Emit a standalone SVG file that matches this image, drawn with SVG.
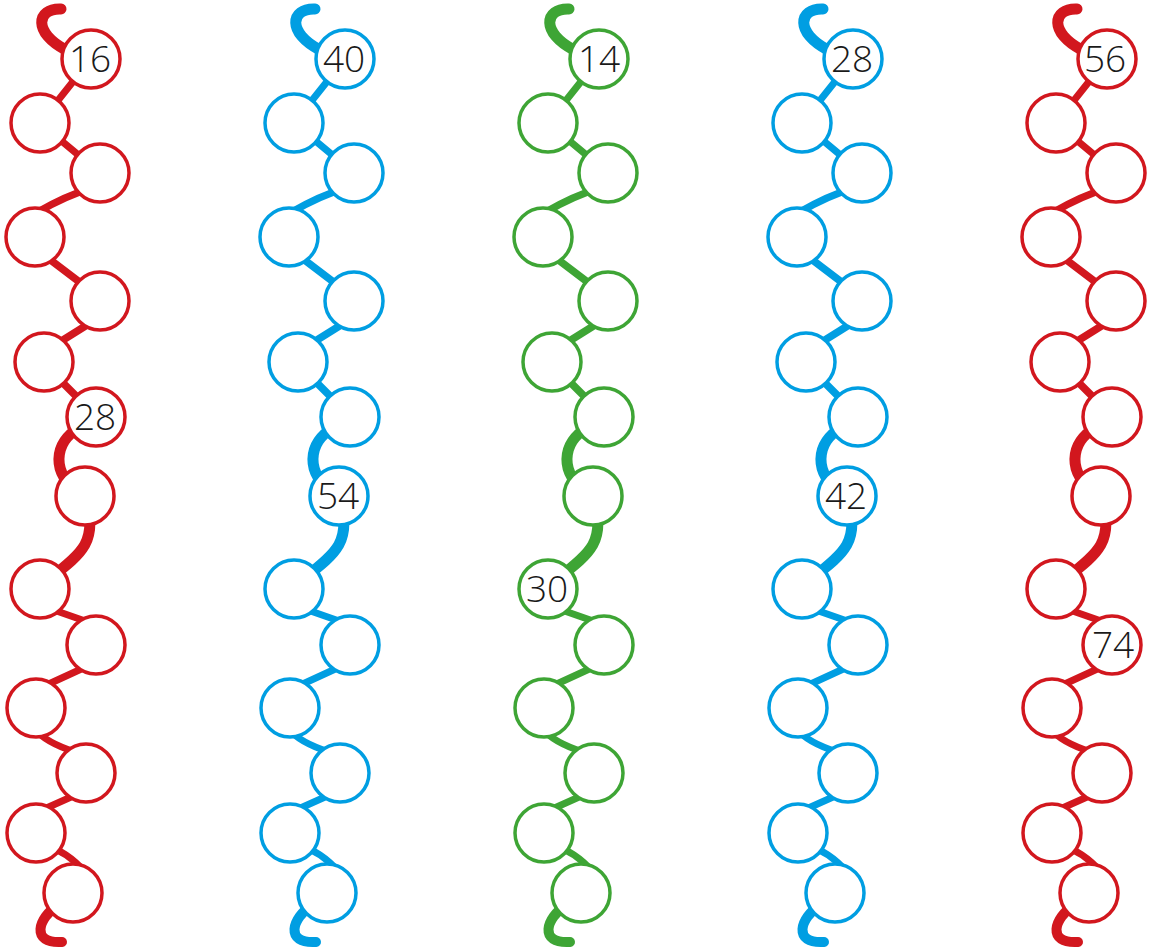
<svg xmlns="http://www.w3.org/2000/svg" width="1160" height="949" viewBox="0 0 1160 949">
<style>
.n circle{fill:#fff;stroke-width:3.5}
.red .n circle{stroke:#D2171E}.blue .n circle{stroke:#009EE2}.green .n circle{stroke:#3EA535}
.con{fill:none;stroke-linecap:round}
.red .con{stroke:#D2171E}.blue .con{stroke:#009EE2}.green .con{stroke:#3EA535}
.n text{font-family:"Open Sans","Liberation Sans",sans-serif;font-weight:300;font-size:37px;fill:#1a1a1a;text-anchor:middle}
</style>
<defs>
<g id="links" fill="none" stroke-linecap="round">
<path stroke-width="11" d="M61 9 C36 8,33 33,66 50 L76 58"/>
<path stroke-width="7" d="M91 59 L40 123"/>
<path stroke-width="7" d="M40 123 L100 173"/>
<path stroke-width="7.5" d="M92 188 Q65 196 38 212"/>
<path stroke-width="7.5" d="M40 252 L90 290"/>
<path stroke-width="7.5" d="M95 320 L55 345"/>
<path stroke-width="7.5" d="M50 370 L90 410"/>
<path stroke-width="11" d="M85 425 C55 438,50 468,75 490"/>
<path stroke-width="11" d="M88 505 C95 540,85 552,50 578"/>
<path stroke-width="7" d="M48 608 L88 622"/>
<path stroke-width="7" d="M90 665 L40 688"/>
<path stroke-width="7" d="M36 730 Q45 742 75 752"/>
<path stroke-width="7" d="M80 793 L42 810"/>
<path stroke-width="7" d="M45 845 Q68 852 85 872"/>
<path stroke-width="10" d="M58 905 C38 918,30 944,62 942"/>
</g>
</defs>

<g id="col1" class="red">
<g class="con"><use href="#links"/></g>
<g id="c1n1" class="n"><circle cx="91" cy="59" r="29"/><text x="90" y="72">16</text></g>
<g id="c1n2" class="n"><circle cx="40" cy="123" r="29"/></g>
<g id="c1n3" class="n"><circle cx="100" cy="173" r="29"/></g>
<g id="c1n4" class="n"><circle cx="35" cy="237" r="29"/></g>
<g id="c1n5" class="n"><circle cx="100" cy="301" r="29"/></g>
<g id="c1n6" class="n"><circle cx="44" cy="362" r="29"/></g>
<g id="c1n7" class="n"><circle cx="96" cy="417" r="29"/><text x="95" y="430">28</text></g>
<g id="c1n8" class="n"><circle cx="85" cy="496" r="29"/></g>
<g id="c1n9" class="n"><circle cx="40" cy="589" r="29"/></g>
<g id="c1n10" class="n"><circle cx="96" cy="645" r="29"/></g>
<g id="c1n11" class="n"><circle cx="36" cy="708" r="29"/></g>
<g id="c1n12" class="n"><circle cx="86" cy="773" r="29"/></g>
<g id="c1n13" class="n"><circle cx="36" cy="833" r="29"/></g>
<g id="c1n14" class="n"><circle cx="73" cy="893" r="29"/></g>
</g>

<g id="col2" class="blue" transform="translate(254,0)">
<g class="con"><use href="#links"/></g>
<g id="c2n1" class="n"><circle cx="91" cy="59" r="29"/><text x="90" y="72">40</text></g>
<g id="c2n2" class="n"><circle cx="40" cy="123" r="29"/></g>
<g id="c2n3" class="n"><circle cx="100" cy="173" r="29"/></g>
<g id="c2n4" class="n"><circle cx="35" cy="237" r="29"/></g>
<g id="c2n5" class="n"><circle cx="100" cy="301" r="29"/></g>
<g id="c2n6" class="n"><circle cx="44" cy="362" r="29"/></g>
<g id="c2n7" class="n"><circle cx="96" cy="417" r="29"/></g>
<g id="c2n8" class="n"><circle cx="85" cy="496" r="29"/><text x="84" y="509">54</text></g>
<g id="c2n9" class="n"><circle cx="40" cy="589" r="29"/></g>
<g id="c2n10" class="n"><circle cx="96" cy="645" r="29"/></g>
<g id="c2n11" class="n"><circle cx="36" cy="708" r="29"/></g>
<g id="c2n12" class="n"><circle cx="86" cy="773" r="29"/></g>
<g id="c2n13" class="n"><circle cx="36" cy="833" r="29"/></g>
<g id="c2n14" class="n"><circle cx="73" cy="893" r="29"/></g>
</g>

<g id="col3" class="green" transform="translate(508,0)">
<g class="con"><use href="#links"/></g>
<g id="c3n1" class="n"><circle cx="91" cy="59" r="29"/><text x="91" y="72">14</text></g>
<g id="c3n2" class="n"><circle cx="40" cy="123" r="29"/></g>
<g id="c3n3" class="n"><circle cx="100" cy="173" r="29"/></g>
<g id="c3n4" class="n"><circle cx="35" cy="237" r="29"/></g>
<g id="c3n5" class="n"><circle cx="100" cy="301" r="29"/></g>
<g id="c3n6" class="n"><circle cx="44" cy="362" r="29"/></g>
<g id="c3n7" class="n"><circle cx="96" cy="417" r="29"/></g>
<g id="c3n8" class="n"><circle cx="85" cy="496" r="29"/></g>
<g id="c3n9" class="n"><circle cx="40" cy="589" r="29"/><text x="39" y="602">30</text></g>
<g id="c3n10" class="n"><circle cx="96" cy="645" r="29"/></g>
<g id="c3n11" class="n"><circle cx="36" cy="708" r="29"/></g>
<g id="c3n12" class="n"><circle cx="86" cy="773" r="29"/></g>
<g id="c3n13" class="n"><circle cx="36" cy="833" r="29"/></g>
<g id="c3n14" class="n"><circle cx="73" cy="893" r="29"/></g>
</g>

<g id="col4" class="blue" transform="translate(762,0)">
<g class="con"><use href="#links"/></g>
<g id="c4n1" class="n"><circle cx="91" cy="59" r="29"/><text x="90" y="72">28</text></g>
<g id="c4n2" class="n"><circle cx="40" cy="123" r="29"/></g>
<g id="c4n3" class="n"><circle cx="100" cy="173" r="29"/></g>
<g id="c4n4" class="n"><circle cx="35" cy="237" r="29"/></g>
<g id="c4n5" class="n"><circle cx="100" cy="301" r="29"/></g>
<g id="c4n6" class="n"><circle cx="44" cy="362" r="29"/></g>
<g id="c4n7" class="n"><circle cx="96" cy="417" r="29"/></g>
<g id="c4n8" class="n"><circle cx="85" cy="496" r="29"/><text x="84" y="509">42</text></g>
<g id="c4n9" class="n"><circle cx="40" cy="589" r="29"/></g>
<g id="c4n10" class="n"><circle cx="96" cy="645" r="29"/></g>
<g id="c4n11" class="n"><circle cx="36" cy="708" r="29"/></g>
<g id="c4n12" class="n"><circle cx="86" cy="773" r="29"/></g>
<g id="c4n13" class="n"><circle cx="36" cy="833" r="29"/></g>
<g id="c4n14" class="n"><circle cx="73" cy="893" r="29"/></g>
</g>

<g id="col5" class="red" transform="translate(1016,0)">
<g class="con"><use href="#links"/></g>
<g id="c5n1" class="n"><circle cx="91" cy="59" r="29"/><text x="89" y="72">56</text></g>
<g id="c5n2" class="n"><circle cx="40" cy="123" r="29"/></g>
<g id="c5n3" class="n"><circle cx="100" cy="173" r="29"/></g>
<g id="c5n4" class="n"><circle cx="35" cy="237" r="29"/></g>
<g id="c5n5" class="n"><circle cx="100" cy="301" r="29"/></g>
<g id="c5n6" class="n"><circle cx="44" cy="362" r="29"/></g>
<g id="c5n7" class="n"><circle cx="96" cy="417" r="29"/></g>
<g id="c5n8" class="n"><circle cx="85" cy="496" r="29"/></g>
<g id="c5n9" class="n"><circle cx="40" cy="589" r="29"/></g>
<g id="c5n10" class="n"><circle cx="96" cy="645" r="29"/><text x="97" y="658">74</text></g>
<g id="c5n11" class="n"><circle cx="36" cy="708" r="29"/></g>
<g id="c5n12" class="n"><circle cx="86" cy="773" r="29"/></g>
<g id="c5n13" class="n"><circle cx="36" cy="833" r="29"/></g>
<g id="c5n14" class="n"><circle cx="73" cy="893" r="29"/></g>
</g>
</svg>
